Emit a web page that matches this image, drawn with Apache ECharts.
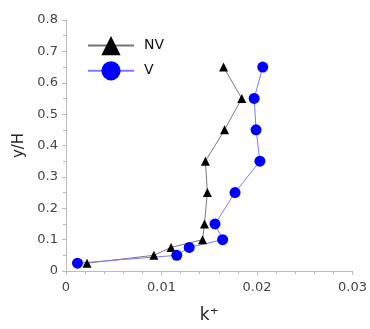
<!DOCTYPE html>
<html><head><meta charset="utf-8">
<script src="https://cdn.jsdelivr.net/npm/echarts@6/dist/echarts.min.js"></script>
<style>html,body{margin:0;padding:0;background:#fff}#c{width:370px;height:329px}</style>
</head><body><div id="c"></div>
<script>
const yNV = [0.025, 0.05, 0.075, 0.1, 0.15, 0.25, 0.35, 0.45, 0.55, 0.65];
const kNV = [0.0022, 0.0092, 0.0110, 0.0143, 0.0145, 0.0148, 0.0146, 0.0166, 0.0184, 0.0165];
const yV = [0.025, 0.05, 0.075, 0.1, 0.15, 0.25, 0.35, 0.45, 0.55, 0.65];
const kV = [0.0012, 0.0116, 0.0129, 0.0164, 0.0156, 0.0177, 0.0203, 0.0199, 0.0197, 0.0206];
const xTicks = [0, 0.01, 0.02, 0.03];
const yTicks = [0, 0.1, 0.2, 0.3, 0.4, 0.5, 0.6, 0.7, 0.8];

const font = 'DejaVu Sans';
const chart = echarts.init(document.getElementById('c'), null, {renderer: 'canvas'});
chart.setOption({
  animation: false,
  grid: {left: 66, right: 16, top: 20, bottom: 50},
  legend: {
    left: 82, top: 31, orient: 'vertical', itemGap: 6, itemWidth: 46, itemHeight: 24,
    textStyle: {fontFamily: font, fontSize: 14, color: '#111', padding: [0, 0, 0, 5]},
    data: ['NV', 'V']
  },
  xAxis: {
    type: 'value', min: 0, max: 0.03, interval: 0.01,
    name: 'k\u207A', nameLocation: 'middle', nameGap: 36,
    nameTextStyle: {fontFamily: font, fontSize: 17, color: '#222'},
    axisLine: {show: true, lineStyle: {color: '#bbb'}},
    axisTick: {show: true, length: 4, lineStyle: {color: '#bbb'}},
    minorTick: {show: true, splitNumber: 5, length: 3, lineStyle: {color: '#bbb'}},
    splitLine: {show: false},
    axisLabel: {fontFamily: font, fontSize: 13, color: '#444', margin: 10,
      formatter: v => { const t = xTicks.find(x => Math.abs(x - v) < 1e-9); return t === undefined ? '' : String(t); }}
  },
  yAxis: {
    type: 'value', min: 0, max: 0.8, interval: 0.1,
    name: 'y/H', nameLocation: 'middle', nameGap: 36, nameRotate: 90,
    nameTextStyle: {fontFamily: font, fontSize: 15, color: '#222'},
    axisLine: {show: true, lineStyle: {color: '#bbb'}},
    axisTick: {show: true, length: 4, lineStyle: {color: '#bbb'}},
    minorTick: {show: true, splitNumber: 2, length: 3, lineStyle: {color: '#bbb'}},
    splitLine: {show: false},
    axisLabel: {fontFamily: font, fontSize: 13, color: '#444', margin: 8,
      formatter: v => { const t = yTicks.find(x => Math.abs(x - v) < 1e-9); return t === undefined ? '' : String(t); }}
  },
  series: [
    {
      name: 'NV', type: 'line', data: kNV.map((k, i) => [k, yNV[i]]),
      symbol: 'triangle', symbolSize: 9,
      lineStyle: {color: '#777', width: 1},
      itemStyle: {color: '#000'}
    },
    {
      name: 'V', type: 'line', data: kV.map((k, i) => [k, yV[i]]),
      symbol: 'circle', symbolSize: 11,
      lineStyle: {color: '#7b7bff', width: 1},
      itemStyle: {color: '#0000ff'}
    }
  ]
});
</script></body></html>
